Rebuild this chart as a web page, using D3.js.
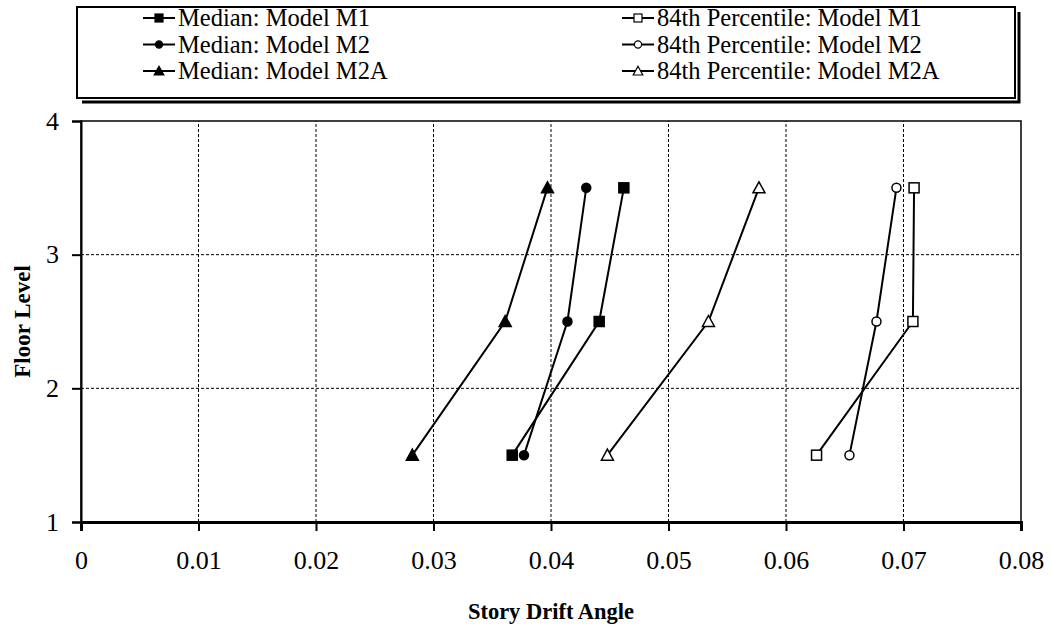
<!DOCTYPE html>
<html>
<head>
<meta charset="utf-8">
<title>Story Drift Angle</title>
<script src="https://d3js.org/d3.v7.min.js"></script>
<style>
  body { margin: 0; background: #fff; }
  text { font-family: "Liberation Serif", "Times New Roman", serif; fill: #000; }
</style>
</head>
<body>
<script>
// data
var floors = [1.5, 2.5, 3.5];
var medianM1 = [0.0367, 0.0441, 0.0462];
var medianM2 = [0.0377, 0.0414, 0.0430];
var medianM2A = [0.0282, 0.0361, 0.0397];
var p84M1 = [0.0626, 0.0708, 0.0709];
var p84M2 = [0.0654, 0.0677, 0.0694];
var p84M2A = [0.0448, 0.0534, 0.0577];
var xTicks = [0, 0.01, 0.02, 0.03, 0.04, 0.05, 0.06, 0.07, 0.08];
var yTicks = [1, 2, 3, 4];

var series = [
  { name: "Median: Model M1", values: medianM1, shape: "square", fill: "#000" },
  { name: "Median: Model M2", values: medianM2, shape: "circle", fill: "#000" },
  { name: "Median: Model M2A", values: medianM2A, shape: "triangle", fill: "#000" },
  { name: "84th Percentile: Model M1", values: p84M1, shape: "square", fill: "#fff" },
  { name: "84th Percentile: Model M2", values: p84M2, shape: "circle", fill: "#fff" },
  { name: "84th Percentile: Model M2A", values: p84M2A, shape: "triangle", fill: "#fff" }
];

var width = 1051, height = 629;
var margin = { top: 121, right: 30, bottom: 107, left: 81 };

var svg = d3.select("body").append("svg").attr("width", width).attr("height", height);

var x = d3.scaleLinear().domain([0, 0.08]).range([margin.left, width - margin.right]);
var y = d3.scaleLinear().domain([1, 4]).range([height - margin.bottom, margin.top]);

// grid
svg.append("g").selectAll("line").data(xTicks.slice(1, -1)).enter().append("line")
  .attr("x1", d => x(d)).attr("x2", d => x(d))
  .attr("y1", y(1)).attr("y2", y(4))
  .attr("stroke", "#000").attr("stroke-width", 1).attr("stroke-dasharray", "3,2");
svg.append("g").selectAll("line").data(yTicks.slice(1, -1)).enter().append("line")
  .attr("x1", x(0)).attr("x2", x(0.08))
  .attr("y1", d => y(d)).attr("y2", d => y(d))
  .attr("stroke", "#000").attr("stroke-width", 1).attr("stroke-dasharray", "3,2");

// frame
svg.append("rect")
  .attr("x", x(0)).attr("y", y(4))
  .attr("width", x(0.08) - x(0)).attr("height", y(1) - y(4))
  .attr("fill", "none").attr("stroke", "#000").attr("stroke-width", 1.5);

// axes
var axisX = d3.axisBottom(x).tickValues(xTicks).tickFormat(d => d === 0 ? "0" : d3.format(".2f")(d))
  .tickSize(9).tickPadding(20);
var gx = svg.append("g").attr("transform", "translate(0," + y(1) + ")").call(axisX);
gx.select(".domain").attr("stroke-width", 3);
gx.selectAll(".tick line").attr("stroke-width", 2);
gx.selectAll("text").attr("font-size", "26px").attr("font-family", "Liberation Serif");

var axisY = d3.axisLeft(y).tickValues(yTicks).tickFormat(d3.format("d"))
  .tickSize(9).tickPadding(13);
var gy = svg.append("g").attr("transform", "translate(" + x(0) + ",0)").call(axisY);
gy.select(".domain").attr("stroke-width", 2);
gy.selectAll(".tick line").attr("stroke-width", 2);
gy.selectAll("text").attr("font-size", "26px").attr("font-family", "Liberation Serif");

svg.append("text")
  .attr("x", (x(0) + x(0.08)) / 2).attr("y", 619)
  .attr("text-anchor", "middle").attr("font-size", "22.5px").attr("font-weight", "bold")
  .text("Story Drift Angle");
svg.append("text")
  .attr("transform", "translate(30," + (y(2.5)) + ") rotate(-90)")
  .attr("text-anchor", "middle").attr("font-size", "23px").attr("font-weight", "bold")
  .text("Floor Level");

function marker(g, shape, fill) {
  var m;
  if (shape === "square") {
    m = g.append("rect").attr("x", -5).attr("y", -5).attr("width", 10).attr("height", 10);
  } else if (shape === "circle") {
    m = g.append("circle").attr("r", 4.5);
  } else {
    m = g.append("path").attr("d", "M0,-6L6,5L-6,5Z");
  }
  m.attr("fill", fill).attr("stroke", "#000").attr("stroke-width", 1.5);
}

var line = d3.line().x(d => x(d[0])).y(d => y(d[1]));

series.forEach(function(s) {
  var pts = s.values.map((v, i) => [v, floors[i]]);
  svg.append("path").datum(pts)
    .attr("fill", "none").attr("stroke", "#000").attr("stroke-width", 2)
    .attr("d", line);
  pts.forEach(function(p) {
    var g = svg.append("g").attr("transform", "translate(" + x(p[0]) + "," + y(p[1]) + ")");
    marker(g, s.shape, s.fill);
  });
});

// legend with offset shadow lines
var lg = svg.append("g");
var L = { x: 77, y: 7, w: 938, h: 91 };
lg.append("rect").attr("x", L.x).attr("y", L.y).attr("width", L.w).attr("height", L.h)
  .attr("fill", "#fff").attr("stroke", "#000").attr("stroke-width", 2);
lg.append("path")
  .attr("d", "M" + (L.x + 5) + "," + (L.y + L.h + 4) + "H" + (L.x + L.w + 4) + "V" + (L.y + 5))
  .attr("fill", "none").attr("stroke", "#000").attr("stroke-width", 3);

var colX = [143, 622];
series.forEach(function(s, i) {
  var cx = colX[Math.floor(i / 3)];
  var cy = 18 + (i % 3) * 26.5;
  var item = lg.append("g").attr("transform", "translate(" + cx + "," + cy + ")");
  item.append("line").attr("x1", 0).attr("x2", 32).attr("y1", 0).attr("y2", 0)
    .attr("stroke", "#000").attr("stroke-width", 2);
  var mg = item.append("g").attr("transform", "translate(16,0) scale(0.8)");
  marker(mg, s.shape, s.fill);
  item.append("text").attr("x", 35).attr("y", 8).attr("font-size", "24.5px").text(s.name);
});
</script>
</body>
</html>
